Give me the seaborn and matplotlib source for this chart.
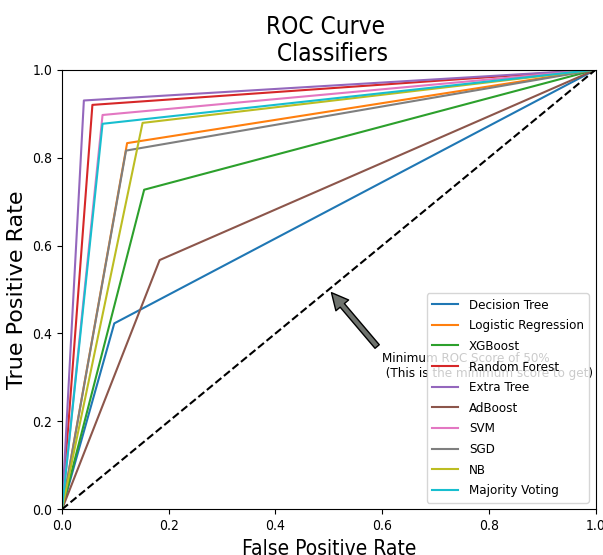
import pandas as pd
import matplotlib
matplotlib.use("Agg")
import matplotlib.pyplot as plt
from matplotlib import font_manager as fm
import seaborn as sns

# ROC corner points (each curve goes (0,0) -> corner -> (1,1))
models = ["Decision Tree", "Logistic Regression", "XGBoost", "Random Forest", "Extra Tree",
          "AdBoost", "SVM", "SGD", "NB", "Majority Voting"]
corner_fpr = [0.098, 0.122, 0.154, 0.057, 0.041, 0.183, 0.076, 0.120, 0.151, 0.076]
corner_tpr = [0.423, 0.833, 0.727, 0.920, 0.930, 0.567, 0.897, 0.816, 0.879, 0.877]

rows = []
for name, f, t in zip(models, corner_fpr, corner_tpr):
    for step, (x, y) in enumerate([(0.0, 0.0), (f, t), (1.0, 1.0)]):
        rows.append({"model": name, "step": step, "fpr": x, "tpr": y})
df = pd.DataFrame(rows)

# the reference text is a narrow DejaVu; use the condensed cut if it is installed
plt.rcParams["font.family"] = ["DejaVu Sans"]
if any(f.name == "DejaVu Sans" and f.stretch == "condensed" for f in fm.fontManager.ttflist):
    plt.rcParams["font.stretch"] = "condensed"

fig = plt.figure(figsize=(6.03, 5.55), dpi=100)
ax = fig.add_axes([0.1028, 0.0823, 0.8850, 0.7921])

sns.lineplot(data=df, x="fpr", y="tpr", hue="model", hue_order=models,
             palette="tab10", estimator=None, sort=False, units="model",
             linewidth=1.5, ax=ax)
ax.plot([0, 1], [0, 1], "k--")
ax.set_xlim(0, 1)
ax.set_ylim(0, 1)
ax.set_title("ROC Curve \n Classifiers", fontsize=17.5)
ax.set_xlabel("False Positive Rate", fontsize=15)
ax.set_ylabel("True Positive Rate", fontsize=16, fontstretch="normal")
ax.annotate("Minimum ROC Score of 50% \n (This is the minimum score to get)",
            xy=(0.5, 0.5), xytext=(0.6, 0.3), fontsize=9.5,
            arrowprops=dict(facecolor="#6E726D", shrink=0.05))
ax.legend(loc="lower right", title=None, fontsize=9.5, labelspacing=0.58)

fig.savefig("out.png", dpi=100)
